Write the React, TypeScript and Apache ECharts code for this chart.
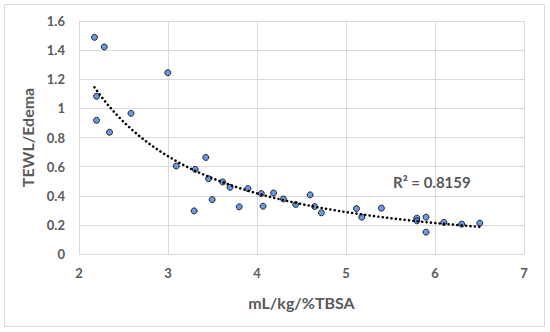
import React, { useEffect, useRef } from "react";
import * as echarts from "echarts";

const xValues = [
  2.174, 2.284, 2.998, 2.197, 2.197, 2.343, 2.584, 3.093, 3.306, 3.425, 3.456, 3.614,
  3.697, 3.294, 3.496, 3.8, 3.898, 4.048, 4.068, 4.186, 4.297, 4.435, 4.597, 4.648,
  4.723, 5.118, 5.177, 5.398, 5.796, 5.796, 5.899, 5.899, 6.1, 6.3, 6.503,
];
const yValues = [
  1.488, 1.422, 1.245, 1.083, 0.918, 0.836, 0.966, 0.604, 0.581, 0.663, 0.517, 0.495,
  0.458, 0.296, 0.374, 0.324, 0.449, 0.415, 0.328, 0.419, 0.378, 0.34, 0.406, 0.326,
  0.283, 0.312, 0.253, 0.315, 0.246, 0.228, 0.253, 0.15, 0.217, 0.205, 0.212,
];
const xTitle = "mL/kg/%TBSA";
const yTitle = "TEWL/Edema";
const r2Label = "R² = 0.8159";

// Power trendline (least squares in log-log space), like Excel's power trendline
function powerTrend(xs: number[], ys: number[], steps: number) {
  const n = xs.length;
  let sx = 0, sy = 0, sxx = 0, sxy = 0;
  for (let i = 0; i < n; i++) {
    const lx = Math.log(xs[i]);
    const ly = Math.log(ys[i]);
    sx += lx; sy += ly; sxx += lx * lx; sxy += lx * ly;
  }
  const b = (n * sxy - sx * sy) / (n * sxx - sx * sx);
  const a = Math.exp((sy - b * sx) / n);
  const xmin = Math.min(...xs);
  const xmax = Math.max(...xs);
  const pts: number[][] = [];
  for (let i = 0; i <= steps; i++) {
    const x = xmin + ((xmax - xmin) * i) / steps;
    pts.push([x, a * Math.pow(x, b)]);
  }
  return pts;
}

export default function App() {
  const ref = useRef<HTMLDivElement>(null);
  useEffect(() => {
    if (!ref.current) return;
    const chart = echarts.init(ref.current, undefined, { renderer: "svg" });
    const font = "Lato, 'Open Sans', sans-serif";
    const grey = "#595959";
    const gridColor = "#d9d9d9";
    chart.setOption({
      animation: false,
      backgroundColor: "#ffffff",
      grid: { left: 79, right: 26, top: 21, bottom: 78, containLabel: false },
      xAxis: {
        type: "value",
        min: 2,
        max: 7,
        interval: 1,
        name: xTitle,
        nameLocation: "middle",
        nameGap: 40,
        nameTextStyle: { fontFamily: font, fontWeight: "bold", fontSize: 16, color: grey },
        axisLine: { show: true, lineStyle: { color: gridColor, width: 1 } },
        axisTick: { show: false },
        axisLabel: { fontFamily: font, fontWeight: "bold", fontSize: 13, color: grey, margin: 12 },
        splitLine: { show: true, lineStyle: { color: gridColor, width: 1 } },
      },
      yAxis: {
        type: "value",
        min: 0,
        max: 1.6,
        interval: 0.2,
        name: yTitle,
        nameLocation: "middle",
        nameGap: 38,
        nameTextStyle: { fontFamily: font, fontWeight: "bold", fontSize: 16, color: grey },
        axisLine: { show: false },
        axisTick: { show: false },
        axisLabel: { fontFamily: font, fontWeight: "bold", fontSize: 13, color: grey, margin: 14 },
        splitLine: { show: true, lineStyle: { color: gridColor, width: 1 } },
      },
      series: [
        {
          type: "scatter",
          data: xValues.map((x, i) => [x, yValues[i]]),
          symbol: "circle",
          symbolSize: 6,
          itemStyle: { color: "#4a80d6", borderColor: "#000000", borderWidth: 1 },
          z: 2,
        },
        {
          type: "line",
          data: powerTrend(xValues, yValues, 120),
          showSymbol: false,
          symbol: "none",
          smooth: false,
          lineStyle: { color: "#000000", width: 2.6, type: [0.01, 4.4], cap: "round" },
          z: 3,
          silent: true,
        },
      ],
      graphic: [
        {
          type: "rect",
          shape: { x: 4.5, y: 4.5, width: 540, height: 322 },
          style: { fill: "none", stroke: "#d9d9d9", lineWidth: 1 },
          silent: true,
        },
        {
          type: "text",
          left: 393,
          top: 174,
          style: {
            text: r2Label,
            font: `bold 15px ${font}`,
            fill: grey,
          },
        },
      ],
    });
    return () => chart.dispose();
  }, []);
  return (
    <div
      ref={ref}
      style={{ position: "fixed", left: 0, top: 0, width: 550, height: 332 }}
    />
  );
}
